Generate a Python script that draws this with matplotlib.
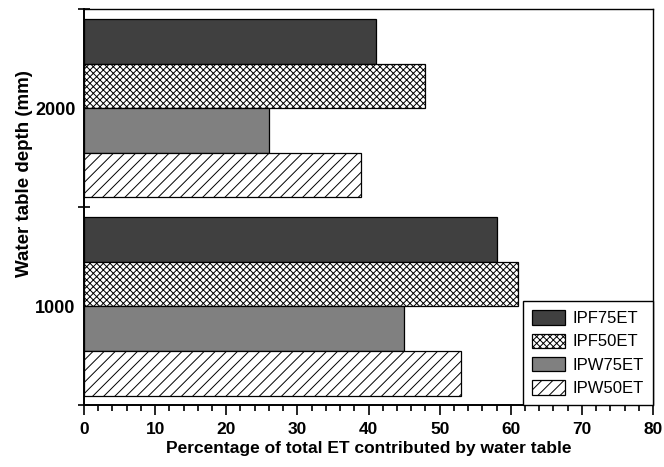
import numpy as np
import matplotlib
matplotlib.use('Agg')
import matplotlib.pyplot as plt
from matplotlib.ticker import MultipleLocator, FixedLocator

plt.rcParams['font.family'] = ['Liberation Sans', 'DejaVu Sans']
plt.rcParams['hatch.linewidth'] = 0.7

# Percentage of total ET contributed by water table
depths = ['1000', '2000']
series = ['IPF75ET', 'IPF50ET', 'IPW75ET', 'IPW50ET']
values = {
    'IPF75ET': [58, 41],
    'IPF50ET': [61, 48],
    'IPW75ET': [45, 26],
    'IPW50ET': [53, 39],
}
styles = {
    'IPF75ET': dict(color='#404040', hatch=None),
    'IPF50ET': dict(color='white', hatch='xxxxx'),
    'IPW75ET': dict(color='#808080', hatch=None),
    'IPW50ET': dict(color='white', hatch='///'),
}

fig = plt.figure(figsize=(6.64, 4.67), dpi=100)
ax = fig.add_axes([0.1265, 0.1317, 0.857, 0.849])

bar_h = 0.225
centers = np.arange(len(depths)) + 0.5
for i, name in enumerate(series):
    # top bar first within each group
    offset = (1.5 - i) * bar_h
    st = styles[name]
    ax.barh(centers + offset, values[name], height=bar_h, color=st['color'],
            hatch=st['hatch'], edgecolor='black', linewidth=0.9, label=name)

ax.set_xlim(0, 80)
ax.set_ylim(0, 2)
ax.xaxis.set_major_locator(MultipleLocator(10))
ax.xaxis.set_minor_locator(MultipleLocator(2))
ax.yaxis.set_major_locator(FixedLocator([0, 1, 2]))
ax.yaxis.set_major_formatter(plt.NullFormatter())
ax.set_yticks(centers, minor=True)
ax.set_yticklabels(depths, minor=True)

ax.tick_params(axis='x', which='major', direction='out', length=7, width=1.2,
               labelsize=12.5, pad=5)
ax.tick_params(axis='x', which='minor', direction='out', length=4, width=1.2)
ax.tick_params(axis='y', which='major', direction='inout', length=8, width=1.2)
ax.tick_params(axis='y', which='minor', length=0, labelsize=13, pad=6)
for lbl in ax.get_xticklabels() + ax.get_yticklabels(minor=True):
    lbl.set_fontweight('bold')

for side in ['left', 'bottom']:
    ax.spines[side].set_linewidth(1.4)
for side in ['top', 'right']:
    ax.spines[side].set_linewidth(1.0)

ax.set_xlabel('Percentage of total ET contributed by water table',
              fontsize=12.5, fontweight='bold')
ax.xaxis.set_label_coords(0.5, -0.09)
ax.set_ylabel('Water table depth (mm)', fontsize=13.5, fontweight='bold')
ax.yaxis.set_label_coords(-0.09, 0.585)

leg = ax.legend(loc='lower right', bbox_to_anchor=(1.0, 0.0), fontsize=12,
                frameon=True, fancybox=False, edgecolor='black', framealpha=1,
                handlelength=2.0, handleheight=0.95, labelspacing=0.45,
                handletextpad=0.45, borderpad=0.55, borderaxespad=0)
leg.get_frame().set_linewidth(1.0)

fig.savefig('out.png', dpi=100)
